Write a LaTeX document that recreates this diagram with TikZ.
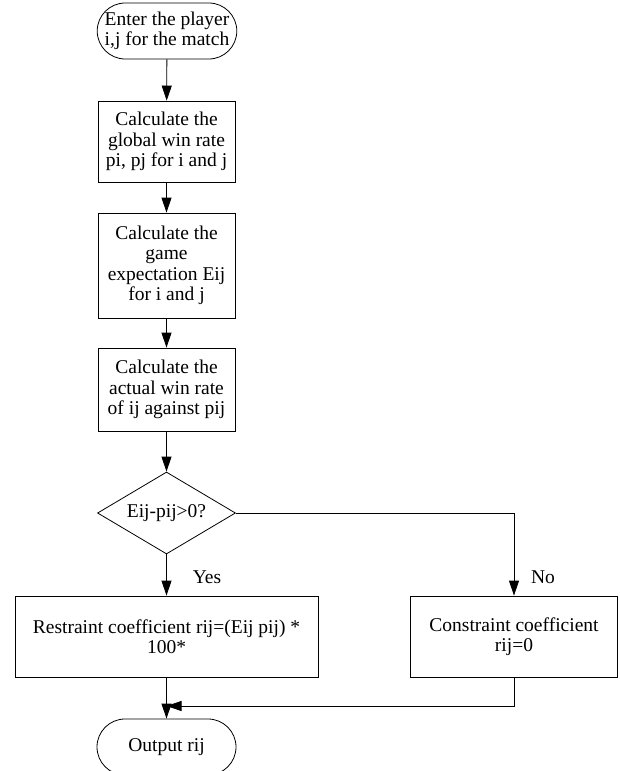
\documentclass[tikz,border=0pt]{standalone}
\usepackage{fontspec}
\setmainfont{Liberation Serif}
\usetikzlibrary{arrows.meta,shapes.misc,shapes.geometric}
\begin{document}
\begin{tikzpicture}[x=1pt,y=1pt,
  every node/.style={font=\fontsize{19.5}{20.5}\selectfont, align=center, inner sep=0pt},
  procbox/.style={draw, line width=0.8pt, minimum width=137pt},
  termbox/.style={draw, line width=0.8pt, rounded rectangle, minimum width=134pt, minimum height=56pt},
  decision/.style={draw, line width=0.8pt, diamond, aspect=1.68, minimum width=138pt, minimum height=82pt},
  flow/.style={line width=0.8pt, -{Triangle[length=15pt,width=10pt]}},
  edge/.style={line width=0.8pt}]
\useasboundingbox (0,0) rectangle (619,-771);

\node[termbox] (start) at (167,-31) {Enter the player\\i,j for the match};
\node[procbox, minimum height=81pt] (b1) at (166.5,-141.5) {Calculate the\\global win rate\\pi, pj for i and j};
\node[procbox, minimum height=105pt] (b2) at (166.5,-265.5) {Calculate the\\game\\expectation Eij\\for i and j};
\node[procbox, minimum height=83pt] (b3) at (166.5,-389.5) {Calculate the\\actual win rate\\of ij against pij};
\node[decision] (d) at (166.5,-513) {Eij-pij>0?};
\node[procbox, minimum width=303pt, minimum height=81pt] (yes) at (166.5,-636.5) {Restraint coefficient rij=(Eij pij) *\\100*};
\node[procbox, minimum width=207pt, minimum height=81pt] (no) at (514,-636.5) {Constraint coefficient\\rij=0};
\node[termbox, minimum width=139pt] (out) at (166.5,-747) {Output rij};

\node (ylab) at (207,-577) {Yes};
\node (nlab) at (543,-577) {No};

\coordinate (m) at (166.5,-706);

\draw[flow] (start) -- (b1);
\draw[flow] (b1) -- (b2);
\draw[flow] (b2) -- (b3);
\draw[flow] (b3) -- (d.north);
\draw[flow] (d.south) -- (yes.north);
\draw[flow] (d.east) -| (no.north);
\draw[flow] (yes.south) -- (out.north);
\draw[flow] (no.south) |- (m);
\end{tikzpicture}
\end{document}
